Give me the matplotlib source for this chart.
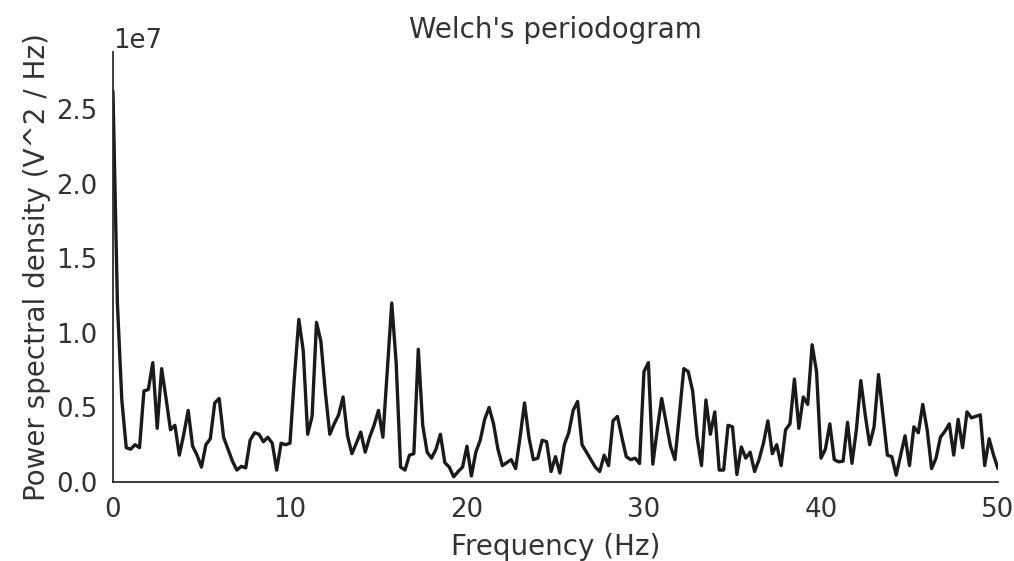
import numpy as np
import matplotlib
matplotlib.use('Agg')
import matplotlib.pyplot as plt
import seaborn as sns

# Welch PSD, 0.25 Hz resolution from 0 to 50 Hz, values in units of 1e6 V^2/Hz
freqs = np.arange(201) * 0.25
psd_1e6 = [
    26.2, 12.0, 5.5, 2.3,
    2.2, 2.5, 2.3, 6.1,
    6.2, 8.0, 3.6, 7.6,
    5.6, 3.5, 3.8, 1.8,
    3.2, 4.8, 2.4, 1.8,
    1.0, 2.5, 2.9, 5.3,
    5.6, 3.0, 2.2, 1.4,
    0.8, 1.05, 0.95, 2.8,
    3.3, 3.2, 2.7, 3.0,
    2.6, 0.8, 2.6, 2.5,
    2.6, 7.0, 10.9, 8.8,
    3.2, 4.4, 10.7, 9.4,
    6.0, 3.2, 3.9, 4.5,
    5.7, 3.1, 1.9, 2.6,
    3.35, 2.0, 3.0, 3.8,
    4.8, 3.0, 7.5, 12.0,
    8.0, 1.0, 0.8, 1.8,
    1.9, 8.9, 3.8, 2.0,
    1.6, 2.2, 3.2, 1.3,
    1.0, 0.35, 0.7, 1.0,
    2.4, 0.4, 2.0, 2.8,
    4.2, 5.0, 3.9, 2.2,
    1.1, 1.3, 1.5, 0.9,
    3.0, 5.3, 3.0, 1.5,
    1.6, 2.8, 2.7, 0.7,
    1.7, 0.6, 2.5, 3.3,
    4.8, 5.4, 2.5, 2.0,
    1.5, 1.0, 0.7, 1.8,
    1.1, 4.1, 4.4, 3.0,
    1.7, 1.5, 1.6, 1.24,
    7.4, 8.0, 1.2, 3.5,
    5.6, 4.0, 2.4, 1.5,
    4.5, 7.6, 7.4, 6.1,
    3.0, 1.1, 5.5, 3.2,
    4.7, 0.8, 0.8, 3.8,
    3.7, 0.5, 2.35, 1.6,
    2.0, 0.7, 1.5, 2.6,
    4.1, 1.9, 2.5, 1.1,
    3.5, 3.9, 6.9, 3.6,
    5.7, 5.2, 9.2, 7.4,
    1.6, 2.2, 3.9, 1.5,
    1.35, 1.4, 4.0, 1.25,
    3.5, 6.8, 4.5, 2.5,
    3.7, 7.2, 4.5, 1.8,
    1.7, 0.46, 1.8, 3.1,
    1.1, 3.7, 3.3, 5.2,
    3.5, 0.9, 1.6, 3.0,
    3.4, 3.9, 1.8, 4.2,
    2.3, 4.7, 4.3, 4.4,
    4.5, 1.1, 2.9, 1.8,
    0.9,
]
psd = np.array(psd_1e6) * 1e6
assert len(psd) == len(freqs)

sns.set_theme(font_scale=1.7, style='white')
text_col = '#333333'
plt.rcParams['text.color'] = text_col
plt.rcParams['axes.labelcolor'] = text_col
plt.rcParams['xtick.color'] = text_col
plt.rcParams['ytick.color'] = text_col

fig = plt.figure(figsize=(10.14, 5.61), dpi=100)
fig.subplots_adjust(left=0.1114, right=0.9842, bottom=0.1408, top=0.9073)
plt.plot(freqs, psd, color='#1a1a1a', lw=2.4)
plt.xlabel('Frequency (Hz)', fontsize=20, labelpad=7)
plt.ylabel('Power spectral density (V^2 / Hz)', fontsize=20)
plt.ylim([0, psd.max() * 1.1])
plt.title("Welch's periodogram", fontsize=20, pad=10)
plt.xlim([0, freqs.max()])
plt.tick_params(axis='both', pad=5)
sns.despine()

plt.savefig('out.png', dpi=100)
